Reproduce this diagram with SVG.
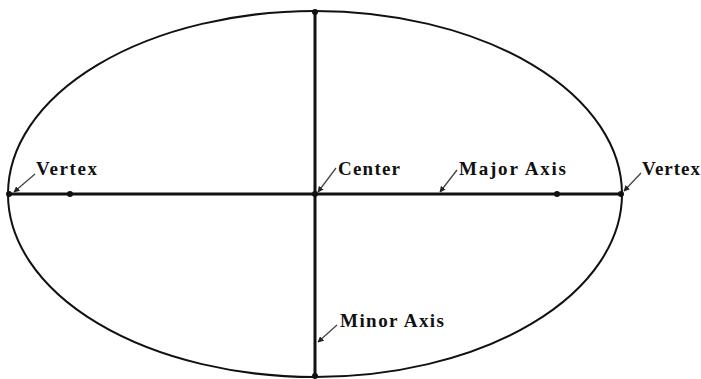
<svg xmlns="http://www.w3.org/2000/svg" width="701" height="379" viewBox="0 0 701 379">
<style>
.ax{stroke:#111;stroke-width:3;fill:none}
.ld{stroke:#444;stroke-width:1.3;fill:none;marker-end:url(#ah)}
text{font-family:"Liberation Serif",serif;font-size:19px;font-weight:bold;fill:#111}
</style>
<defs>
<marker id="ah" viewBox="0 0 10 10" refX="9" refY="5" markerWidth="6" markerHeight="6" orient="auto" markerUnits="userSpaceOnUse"><path d="M0,0 L10,5 L0,10 z" fill="#222"/></marker>
</defs>
<rect width="701" height="379" fill="#fff"/>
<g id="ellipse"><ellipse cx="315" cy="194" rx="307" ry="183" fill="none" stroke="#111" stroke-width="2"/></g>
<g id="axes">
<line class="ax" x1="8" y1="194" x2="622" y2="194"/>
<line class="ax" x1="315" y1="11" x2="315" y2="377"/>
</g>
<g id="points" fill="#111">
<circle cx="9" cy="194" r="3"/><circle cx="70" cy="194" r="3"/><circle cx="315" cy="194" r="3"/>
<circle cx="557" cy="194" r="3"/><circle cx="621" cy="194" r="3"/><circle cx="315" cy="12" r="3"/><circle cx="315" cy="376" r="3"/>
</g>
<g id="connectors">
<line class="ld" x1="35" y1="174" x2="14" y2="192"/>
<line class="ld" x1="336" y1="168" x2="318" y2="192"/>
<line class="ld" x1="457" y1="170" x2="440" y2="192"/>
<line class="ld" x1="641" y1="173" x2="624" y2="191"/>
<line class="ld" x1="337" y1="325" x2="318" y2="342"/>
</g>
<g id="lbl-vertex-left"><text x="36" y="175" textLength="61" lengthAdjust="spacing">Vertex</text></g>
<g id="lbl-center"><text x="338" y="175" textLength="62" lengthAdjust="spacing">Center</text></g>
<g id="lbl-major"><text x="459" y="175" textLength="107" lengthAdjust="spacing">Major Axis</text></g>
<g id="lbl-vertex-right"><text x="642" y="175" textLength="58" lengthAdjust="spacing">Vertex</text></g>
<g id="lbl-minor"><text x="340" y="327" textLength="104" lengthAdjust="spacing">Minor Axis</text></g>
</svg>
